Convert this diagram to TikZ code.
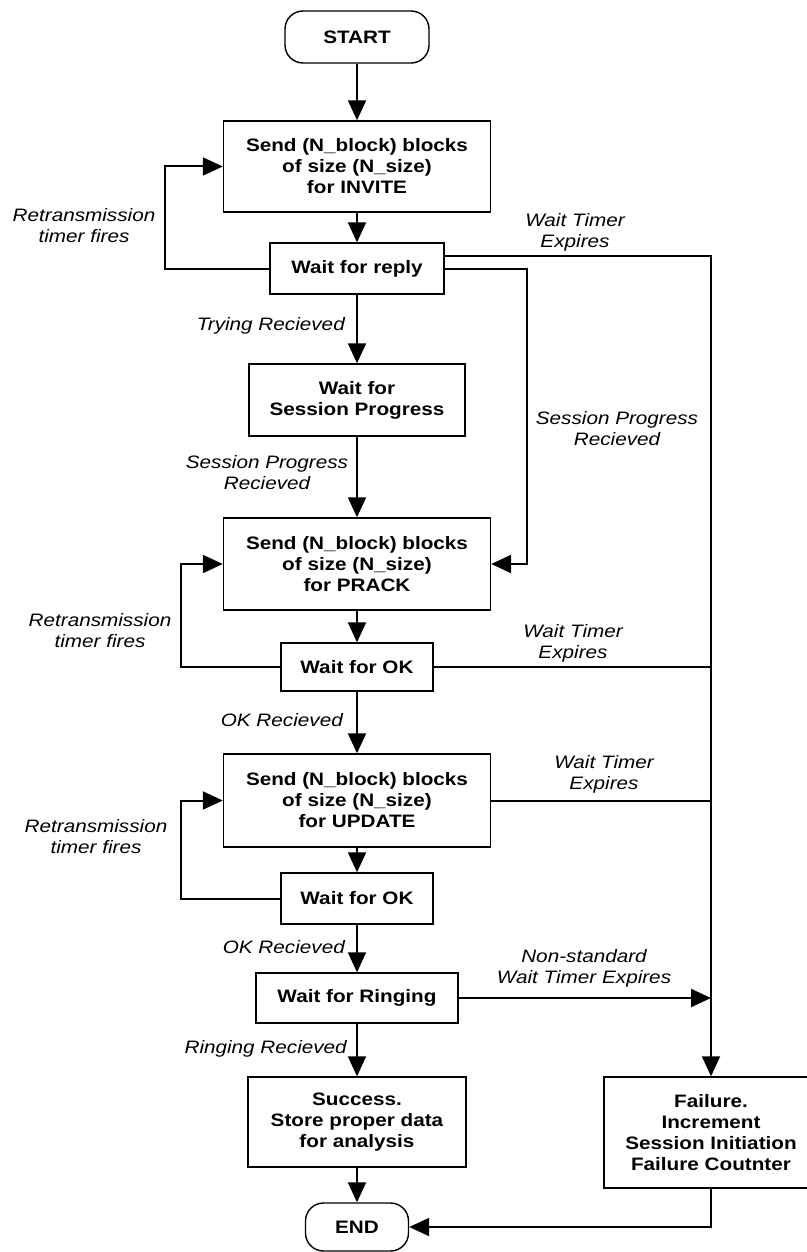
\documentclass[tikz,border=0pt]{standalone}
\usepackage{fontspec}
\setmainfont{Liberation Sans}[FakeStretch=1.15]
\usetikzlibrary{arrows.meta}
\begin{document}
\begin{tikzpicture}[x=1pt,y=-1pt,
  box/.style={draw, line width=1.4pt, align=center, inner sep=0pt,
    font=\bfseries\fontsize{18}{21}\selectfont},
  term/.style={box, rounded corners=18pt},
  lbl/.style={font=\itshape\fontsize{18}{21}\selectfont, align=center, inner sep=0pt},
  flow/.style={line width=2pt},
  arr/.style={flow, -{Triangle[length=20pt,width=18pt]}},
]
\fill[white] (0,0) rectangle (806,1252);
\useasboundingbox (0,0) rectangle (806,1252);

% states along the main column
\node[term, minimum width=144pt, minimum height=52pt] (start) at (357,37) {START};
\node[box, minimum width=267pt, minimum height=91pt] (b1) at (357,166.5)
  {Send (N\_block) blocks\\of size (N\_size)\\for INVITE};
\node[box, minimum width=174pt, minimum height=51pt] (wr) at (357,268.5) {Wait for reply};
\node[box, minimum width=216pt, minimum height=72pt] (wsp) at (357,400)
  {Wait for\\Session Progress};
\node[box, minimum width=267pt, minimum height=92pt] (b2) at (357,564)
  {Send (N\_block) blocks\\of size (N\_size)\\for PRACK};
\node[box, minimum width=152pt, minimum height=48pt] (wok1) at (357,667) {Wait for OK};
\node[box, minimum width=267pt, minimum height=93pt] (b3) at (357,800.5)
  {Send (N\_block) blocks\\of size (N\_size)\\for UPDATE};
\node[box, minimum width=152pt, minimum height=51pt] (wok2) at (357,898.5) {Wait for OK};
\node[box, minimum width=202pt, minimum height=50pt] (wring) at (357,998) {Wait for Ringing};
\node[box, minimum width=218pt, minimum height=90pt] (succ) at (357,1122)
  {Success.\\Store proper data\\for analysis};
\node[box, minimum width=214pt, minimum height=111pt] (fail) at (711,1132.5)
  {Failure.\\Increment\\Session Initiation\\Failure Coutnter};
\node[term, minimum width=103pt, minimum height=48pt] (end) at (357,1227) {END};

% columns of the side connectors
\coordinate (l1) at (165,0);
\coordinate (l2) at (181,0);
\coordinate (sp) at (527,0);
\coordinate (tr) at (711,0);

% main flow
\draw[arr] (start) -- (b1);
\draw[arr] (b1) -- (wr);
\draw[arr] (wr) -- (wsp);
\draw[arr] (wsp) -- (b2);
\draw[arr] (b2) -- (wok1);
\draw[arr] (wok1) -- (b3);
\draw[arr] (b3) -- (wok2);
\draw[arr] (wok2) -- (wring);
\draw[arr] (wring) -- (succ);
\draw[arr] (succ) -- (end);

% retransmission loops
\draw[arr] (wr.west) -| (l1 |- b1.west) -- (b1.west);
\draw[arr] (wok1.west) -| (l2 |- b2.west) -- (b2.west);
\draw[arr] (wok2.west) -| (l2 |- b3.west) -- (b3.west);

% session progress shortcut
\draw[arr] (wr.east) -| (sp |- b2.east) -- (b2.east);

% timer expiry trunk to failure
\draw[arr] ([yshift=12.5pt]wr.east) -| (tr |- fail.north);
\draw[flow] (wok1.east) -- (tr |- wok1.east);
\draw[flow] (b3.east) -- (tr |- b3.east);
\draw[arr] (wring.east) -- (tr |- wring.east);
\draw[arr] (fail.south) |- (end.east);

% transition labels
\node[lbl] (t1) at (84,226) {Retransmission\\timer fires};
\node[lbl] (t2) at (575,232.5) {Wait Timer\\Expires};
\node[lbl, anchor=east] (t3) at (345,326) {Trying Recieved};
\node[lbl] (t4) at (617,428.5) {Session Progress\\Recieved};
\node[lbl] (t5) at (267,473) {Session Progress\\Recieved};
\node[lbl] (t6) at (100,631) {Retransmission\\timer fires};
\node[lbl] (t7) at (573,643.5) {Wait Timer\\Expires};
\node[lbl, anchor=east] (t8) at (343,720) {OK Recieved};
\node[lbl] (t9) at (604,774) {Wait Timer\\Expires};
\node[lbl] (t10) at (96,837) {Retransmission\\timer fires};
\node[lbl, anchor=east] (t11) at (345,947) {OK Recieved};
\node[lbl] (t12) at (584,968.5) {Non-standard\\Wait Timer Expires};
\node[lbl, anchor=east] (t13) at (347,1049) {Ringing Recieved};
\end{tikzpicture}
\end{document}
